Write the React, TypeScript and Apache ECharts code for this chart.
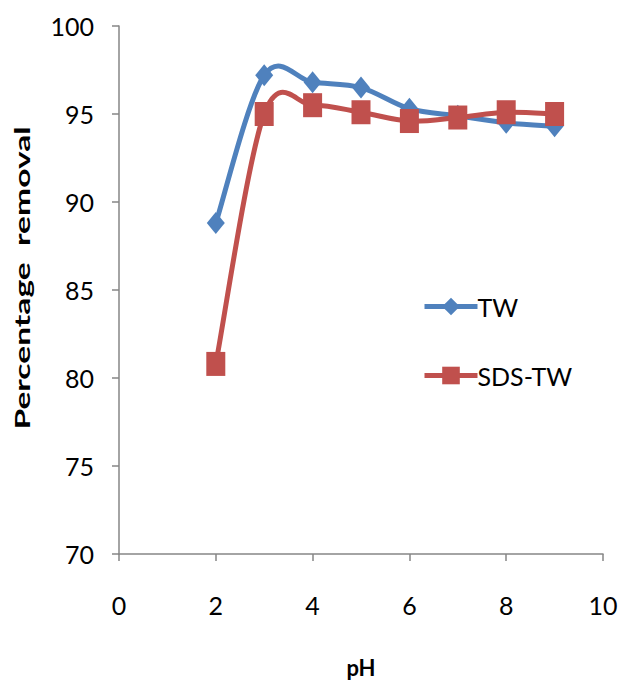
import React, { useEffect, useRef } from "react";
import * as echarts from "echarts";

// pH values tested
const phValues = [2, 3, 4, 5, 6, 7, 8, 9];
// Percentage removal for each adsorbent
const twRemoval = [88.8, 97.2, 96.8, 96.5, 95.3, 94.9, 94.5, 94.3];
const sdsTwRemoval = [80.8, 95.0, 95.5, 95.1, 94.6, 94.8, 95.1, 95.0];

const seriesNames = ["TW", "SDS-TW"];
const seriesColors = ["#4F81BD", "#C0504D"];

const FONT = "'Liberation Sans Narrow', Lato, sans-serif";
const TITLE_FONT = "Lato, 'Open Sans', sans-serif";

// Catmull-Rom style smoothed curve, one cubic segment per data interval,
// positioned through the chart's own coordinate system.
function smoothCurveSeries(name: string, ys: number[], color: string) {
  const n = phValues.length;
  return {
    name,
    type: "custom",
    data: phValues.map((x, i) => [x, ys[i]]),
    encode: { x: 0, y: 1 },
    silent: true,
    renderItem: (params: any, api: any) => {
      const i = params.dataIndex;
      if (i >= n - 1) return { type: "group", children: [] };
      const pt = (k: number) => {
        const j = Math.max(0, Math.min(n - 1, k));
        return api.coord([phValues[j], ys[j]]);
      };
      const p0 = pt(i - 1);
      const p1 = pt(i);
      const p2 = pt(i + 1);
      const p3 = pt(i + 2);
      return {
        type: "bezierCurve",
        shape: {
          x1: p1[0],
          y1: p1[1],
          x2: p2[0],
          y2: p2[1],
          cpx1: p1[0] + (p2[0] - p0[0]) / 6,
          cpy1: p1[1] + (p2[1] - p0[1]) / 6,
          cpx2: p2[0] - (p3[0] - p1[0]) / 6,
          cpy2: p2[1] - (p3[1] - p1[1]) / 6,
        },
        style: { stroke: color, lineWidth: 5, fill: null, lineCap: "round" },
      };
    },
  };
}

function markerSeries(name: string, ys: number[], color: string, symbol: string, size: number[]) {
  return {
    name,
    type: "line",
    data: phValues.map((x, i) => [x, ys[i]]),
    symbol,
    symbolSize: size,
    showAllSymbol: true,
    lineStyle: { width: 5, color, opacity: 0 },
    itemStyle: { color },
  };
}

export default function App() {
  const ref = useRef<HTMLDivElement>(null);

  useEffect(() => {
    if (!ref.current) return;
    const chart = echarts.init(ref.current, undefined, { renderer: "svg" });

    chart.setOption({
      animation: false,
      backgroundColor: "#ffffff",
      grid: { left: 119, right: 18, top: 26, bottom: 130, containLabel: false },
      legend: {
        orient: "vertical",
        left: 417,
        top: 289,
        itemGap: 44,
        itemWidth: 53,
        itemHeight: 22,
        data: [
          { name: seriesNames[0], lineStyle: { opacity: 1, width: 5, color: seriesColors[0] } },
          { name: seriesNames[1], lineStyle: { opacity: 1, width: 5, color: seriesColors[1] } },
        ],
        textStyle: { fontFamily: FONT, fontSize: 25, color: "#000", padding: [0, 0, 0, -5] },
      },
      xAxis: {
        type: "value",
        min: 0,
        max: 10,
        interval: 2,
        name: "pH",
        nameLocation: "middle",
        nameGap: 102,
        nameTextStyle: { fontFamily: TITLE_FONT, fontSize: 22, fontWeight: "bold", color: "#000" },
        axisLine: { show: true, onZero: false, lineStyle: { color: "#868686", width: 1.5 } },
        axisTick: { show: true, length: 7, lineStyle: { color: "#868686", width: 1.5 } },
        axisLabel: { fontFamily: FONT, fontSize: 25, color: "#000", margin: 38 },
        splitLine: { show: false },
      },
      yAxis: {
        type: "value",
        min: 70,
        max: 100,
        interval: 5,
        axisLine: { show: true, lineStyle: { color: "#868686", width: 1.5 } },
        axisTick: { show: true, length: 7, lineStyle: { color: "#868686", width: 1.5 } },
        axisLabel: { fontFamily: FONT, fontSize: 25, color: "#000", margin: 25 },
        splitLine: { show: false },
      },
      graphic: [
        {
          type: "text",
          x: 22,
          y: 278,
          rotation: Math.PI / 2,
          scaleX: 1.6,
          style: {
            text: "Percentage  removal",
            fontFamily: TITLE_FONT,
            fontSize: 21,
            fontWeight: "bold",
            fill: "#000",
            align: "center",
            verticalAlign: "middle",
          },
        },
      ],
      series: [
        smoothCurveSeries("TW curve", twRemoval, seriesColors[0]),
        markerSeries(seriesNames[0], twRemoval, seriesColors[0], "diamond", [18, 22]),
        smoothCurveSeries("SDS-TW curve", sdsTwRemoval, seriesColors[1]),
        markerSeries(seriesNames[1], sdsTwRemoval, seriesColors[1], "rect", [19, 24]),
      ],
    });

    return () => chart.dispose();
  }, []);

  return (
    <div
      ref={ref}
      style={{ position: "absolute", left: 0, top: 0, width: 621, height: 684 }}
    />
  );
}
